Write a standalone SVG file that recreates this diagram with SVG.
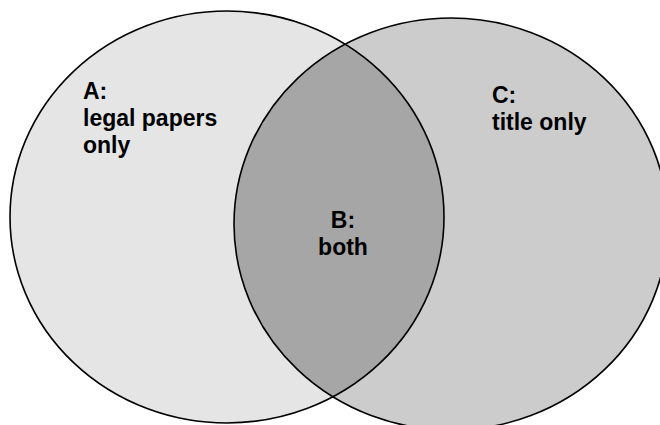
<svg xmlns="http://www.w3.org/2000/svg" width="660" height="425" viewBox="0 0 660 425">
<style>
.lbl{font-family:"Liberation Sans",Arial,sans-serif;font-weight:bold;font-size:23px;fill:#000}
.edge{fill:none;stroke:#000;stroke-width:1.6}
</style>
<defs>
<clipPath id="clipA"><ellipse cx="227" cy="217" rx="217" ry="206"/></clipPath>
</defs>
<rect width="660" height="425" fill="#fff"/>
<g id="setA">
<ellipse cx="227" cy="217" rx="217" ry="206" fill="#e5e5e5"/>
</g>
<g id="setC">
<ellipse cx="451" cy="224" rx="217" ry="206" fill="#cccccc"/>
</g>
<g id="setB">
<ellipse cx="451" cy="224" rx="217" ry="206" fill="#a6a6a6" clip-path="url(#clipA)"/>
</g>
<g id="outlines">
<ellipse class="edge" cx="227" cy="217" rx="217" ry="206"/>
<ellipse class="edge" cx="451" cy="224" rx="217" ry="206"/>
</g>
<g id="labels">
<text class="lbl" x="83" y="99">A:<tspan x="83" y="126">legal papers</tspan><tspan x="83" y="153">only</tspan></text>
<text class="lbl" x="343" y="228" text-anchor="middle">B:<tspan x="343" y="255">both</tspan></text>
<text class="lbl" x="492" y="103">C:<tspan x="492" y="130">title only</tspan></text>
</g>
</svg>
